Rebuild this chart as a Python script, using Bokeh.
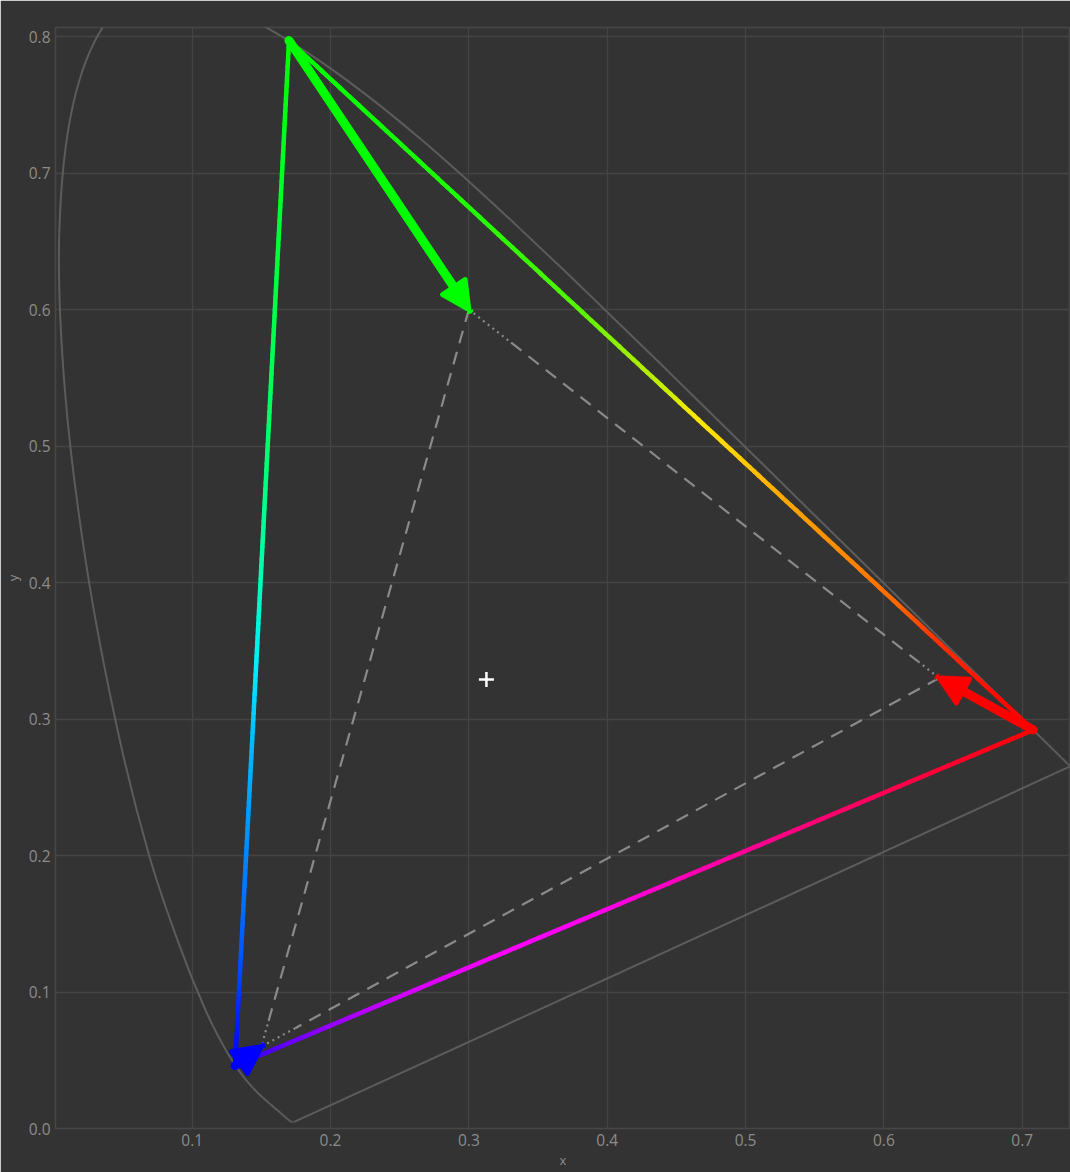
from bokeh.plotting import figure
from bokeh.models import Arrow, NormalHead, FixedTicker, Range1d, PrintfTickFormatter
from bokeh.embed import file_html
from bokeh.resources import INLINE

# CIE 1931 2-degree spectral locus, 380-700 nm in 5 nm steps
locus_x = [0.1741, 0.1740, 0.1738, 0.1736, 0.1733, 0.1730, 0.1726, 0.1721, 0.1714, 0.1703,
           0.1689, 0.1669, 0.1644, 0.1611, 0.1566, 0.1510, 0.1440, 0.1355, 0.1241, 0.1096,
           0.0913, 0.0687, 0.0454, 0.0235, 0.0082, 0.0039, 0.0139, 0.0389, 0.0743, 0.1142,
           0.1547, 0.1929, 0.2296, 0.2658, 0.3016, 0.3373, 0.3731, 0.4087, 0.4441, 0.4788,
           0.5125, 0.5448, 0.5752, 0.6029, 0.6270, 0.6482, 0.6658, 0.6801, 0.6915, 0.7006,
           0.7079, 0.7140, 0.7190, 0.7230, 0.7260, 0.7283, 0.7300, 0.7311, 0.7320, 0.7327,
           0.7334, 0.7340, 0.7344, 0.7346, 0.7347]
locus_y = [0.0050, 0.0050, 0.0049, 0.0049, 0.0048, 0.0048, 0.0048, 0.0048, 0.0051, 0.0058,
           0.0069, 0.0086, 0.0109, 0.0138, 0.0177, 0.0227, 0.0297, 0.0399, 0.0578, 0.0868,
           0.1327, 0.2007, 0.2950, 0.4127, 0.5384, 0.6548, 0.7502, 0.8120, 0.8338, 0.8262,
           0.8059, 0.7816, 0.7543, 0.7243, 0.6923, 0.6589, 0.6245, 0.5896, 0.5547, 0.5202,
           0.4866, 0.4544, 0.4242, 0.3965, 0.3725, 0.3514, 0.3340, 0.3197, 0.3083, 0.2993,
           0.2920, 0.2859, 0.2809, 0.2770, 0.2740, 0.2717, 0.2700, 0.2689, 0.2680, 0.2673,
           0.2666, 0.2660, 0.2656, 0.2654, 0.2653]

# Primaries in order R, G, B
primaries = ["R", "G", "B"]
rec2020_x = [0.708, 0.170, 0.131]
rec2020_y = [0.292, 0.797, 0.046]
rec709_x = [0.640, 0.300, 0.150]
rec709_y = [0.330, 0.600, 0.060]

# D65 white point
white_x = [0.3127]
white_y = [0.3290]

x_ticks = [0.1, 0.2, 0.3, 0.4, 0.5, 0.6, 0.7]
y_ticks = [0.0, 0.1, 0.2, 0.3, 0.4, 0.5, 0.6, 0.7, 0.8]

# ---- styling ----
BG = "#333333"
GRID = "#444444"
TEXT = "#8c8c8c"
FONT = "Open Sans"

p = figure(width=1070, height=1172, output_backend="svg", toolbar_location=None,
           x_range=Range1d(0.0012, 0.7349), y_range=Range1d(0.0, 0.8066),
           min_border_left=55, min_border_right=0, min_border_top=27, min_border_bottom=44)
p.background_fill_color = BG
p.border_fill_color = BG
p.outline_line_color = "#474747"
p.outline_line_width = 1.5

p.xgrid.grid_line_color = GRID
p.ygrid.grid_line_color = GRID
p.xgrid.grid_line_width = 1.3
p.ygrid.grid_line_width = 1.3
p.xaxis.ticker = FixedTicker(ticks=x_ticks)
p.yaxis.ticker = FixedTicker(ticks=y_ticks)
p.xaxis.formatter = PrintfTickFormatter(format="%.1f")
p.yaxis.formatter = PrintfTickFormatter(format="%.1f")
p.xaxis.axis_label = "x"
p.yaxis.axis_label = "y"
for ax in (p.xaxis, p.yaxis):
    ax.axis_line_color = None
    ax.major_tick_line_color = None
    ax.minor_tick_line_color = None
    ax.major_tick_out = 0
    ax.major_tick_in = 0
    ax.major_label_text_color = TEXT
    ax.major_label_text_font = FONT
    ax.major_label_text_font_size = "15.5px"
    ax.axis_label_text_color = TEXT
    ax.axis_label_text_font = FONT
    ax.axis_label_text_font_size = "13px"
    ax.axis_label_text_font_style = "normal"
p.xaxis.major_label_standoff = 5
p.xaxis.axis_label_standoff = 2
p.yaxis.major_label_standoff = 5
p.yaxis.axis_label_standoff = 4

# Spectral locus: smooth Catmull-Rom curve through the tabulated points
n = len(locus_x)
bx0, by0, bx1, by1, cx0, cy0, cx1, cy1 = [], [], [], [], [], [], [], []
for i in range(n - 1):
    im, ip2 = max(i - 1, 0), min(i + 2, n - 1)
    bx0.append(locus_x[i]); by0.append(locus_y[i])
    bx1.append(locus_x[i + 1]); by1.append(locus_y[i + 1])
    cx0.append(locus_x[i] + (locus_x[i + 1] - locus_x[im]) / 6)
    cy0.append(locus_y[i] + (locus_y[i + 1] - locus_y[im]) / 6)
    cx1.append(locus_x[i + 1] - (locus_x[ip2] - locus_x[i]) / 6)
    cy1.append(locus_y[i + 1] - (locus_y[ip2] - locus_y[i]) / 6)
LOCUS = "#5c5c5c"
p.bezier(x0=bx0, y0=by0, x1=bx1, y1=by1, cx0=cx0, cy0=cy0, cx1=cx1, cy1=cy1,
         line_color=LOCUS, line_width=2)
# line of purples
p.line([locus_x[-1], locus_x[0]], [locus_y[-1], locus_y[0]], line_color=LOCUS, line_width=2)

# Rec.709 triangle: dashed edges with dotted runs near the corners
iR, iG, iB = 0, 1, 2
edges709 = [
    (iG, iR, [(0.0, 0.09, "dot"), (0.09, 0.955, "dash"), (0.955, 1.0, "dot")]),
    (iR, iB, [(0.0, 0.95, "dash"), (0.95, 1.0, "dot")]),
    (iG, iB, [(0.0, 0.97, "dash"), (0.97, 1.0, "dot")]),
]
dash_styles = {"dash": "13 9", "dot": "2 4"}
for a, b, pieces in edges709:
    xa, ya, xb, yb = rec709_x[a], rec709_y[a], rec709_x[b], rec709_y[b]
    for t0, t1, st in pieces:
        p.line([xa + (xb - xa) * t0, xa + (xb - xa) * t1],
               [ya + (yb - ya) * t0, ya + (yb - ya) * t1],
               line_color="#8a8a8a", line_width=2.2, line_dash=dash_styles[st])


# Rec.2020 triangle with hue gradient along each edge
def hex_rgb(h):
    return tuple(int(h[i:i + 2], 16) for i in (1, 3, 5))


def interp(stops, t):
    for (t0, c0), (t1, c1) in zip(stops[:-1], stops[1:]):
        if t0 <= t <= t1:
            u = 0 if t1 == t0 else (t - t0) / (t1 - t0)
            r0, g0, b0 = hex_rgb(c0)
            r1, g1, b1 = hex_rgb(c1)
            return "#%02x%02x%02x" % (round(r0 + (r1 - r0) * u), round(g0 + (g1 - g0) * u),
                                      round(b0 + (b1 - b0) * u))
    return stops[-1][1]


edge_stops = [
    (iG, iR, [(0, "#00ff00"), (0.26, "#22ff00"), (0.39, "#55f500"), (0.47, "#aaee00"),
              (0.51, "#ccee00"), (0.55, "#ffe800"), (0.61, "#ffcc00"), (0.66, "#ffaa00"),
              (0.75, "#ff8800"), (0.82, "#ff6600"), (0.87, "#ff3300"), (0.95, "#ff0a00"),
              (1, "#ff0000")]),
    (iR, iB, [(0, "#ff0000"), (0.08, "#ff0022"), (0.19, "#ff0055"), (0.37, "#ff0099"),
              (0.55, "#ff00ee"), (0.66, "#ff00ff"), (0.81, "#cc00ff"), (0.9, "#8800ff"),
              (0.97, "#4400ff"), (1, "#0000ff")]),
    (iB, iG, [(0, "#0000ff"), (0.05, "#0022ff"), (0.11, "#0055ff"), (0.21, "#0088ff"),
              (0.24, "#0099ff"), (0.32, "#00bbff"), (0.39, "#00eeff"), (0.49, "#00ffaa"),
              (0.62, "#00ff66"), (0.75, "#00ff44"), (1, "#00ff00")]),
]
N = 160
for a, b, stops in edge_stops:
    xa, ya, xb, yb = rec2020_x[a], rec2020_y[a], rec2020_x[b], rec2020_y[b]
    x0s, y0s, x1s, y1s, cols = [], [], [], [], []
    for k in range(N):
        t0, t1 = k / N, (k + 1) / N
        x0s.append(xa + (xb - xa) * t0)
        y0s.append(ya + (yb - ya) * t0)
        x1s.append(xa + (xb - xa) * t1)
        y1s.append(ya + (yb - ya) * t1)
        cols.append(interp(stops, (t0 + t1) / 2))
    p.segment(x0s, y0s, x1s, y1s, line_color=cols, line_width=4.5, line_cap="round")

# White point
p.scatter(white_x, white_y, marker="cross", size=15, line_color="#ffffff", line_width=2.5)

# Arrows from each Rec.2020 primary to the matching Rec.709 primary
arrow_colors = ["#ff0000", "#00ff00", "#0000ff"]
for i in range(3):
    c = arrow_colors[i]
    p.add_layout(Arrow(x_start=rec2020_x[i], y_start=rec2020_y[i],
                       x_end=rec709_x[i], y_end=rec709_y[i],
                       line_color=c, line_width=9, line_cap="round",
                       end=NormalHead(size=27, fill_color=c, line_color=c, line_width=5,
                                      line_join="round")))

open("out.html", "w").write(file_html(p, INLINE))
